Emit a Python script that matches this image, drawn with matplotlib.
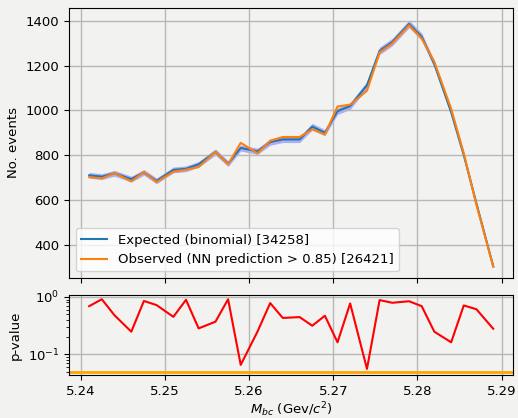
import matplotlib
matplotlib.use("Agg")
import matplotlib.pyplot as plt
import numpy as np

plt.rcParams.update({'font.size': 9.5})

# bin centres
m_bc = [5.241, 5.2425, 5.244, 5.246, 5.2475, 5.249, 5.251, 5.2525, 5.254, 5.256,
        5.2575, 5.259, 5.261, 5.2625, 5.264, 5.266, 5.2675, 5.269, 5.2705, 5.272,
        5.274, 5.2755, 5.277, 5.279, 5.2805, 5.282, 5.284, 5.2855, 5.287, 5.289]

# expected counts (binomial) and its error band half-width
expected = [711, 705, 720, 694, 724, 686, 735, 740, 760, 815,
            763, 833, 818, 859, 871, 871, 928, 901, 997, 1020,
            1113, 1266, 1305, 1386, 1329, 1207, 993, 801, 585, 305]
expected_err = [13, 13, 13, 13, 13, 13, 13, 13, 13, 14,
                13, 14, 14, 14, 14, 14, 15, 14, 15, 15,
                16, 17, 17, 17, 17, 16, 15, 13, 11, 8]

# observed counts (NN prediction > 0.85)
observed = [703, 697, 721, 684, 726, 681, 727, 736, 748, 816,
            760, 856, 809, 865, 882, 882, 916, 893, 1018, 1026,
            1088, 1259, 1299, 1380, 1321, 1217, 1008, 809, 580, 304]

# p-values per bin
p_values = [0.69, 0.91, 0.48, 0.248, 0.85, 0.72, 0.45, 0.89, 0.283, 0.37,
            0.91, 0.0655, 0.25, 0.78, 0.43, 0.445, 0.315, 0.47, 0.162, 0.77,
            0.0558, 0.88, 0.79, 0.84, 0.69, 0.248, 0.162, 0.71, 0.61, 0.279]

p_threshold = 0.05
n_expected = 34258
n_observed = 26421

bg = '#f2f2f1'
fig = plt.figure(figsize=(5.18, 4.18), dpi=100, facecolor=bg)

ax = fig.add_axes([0.1332, 0.3349, 0.858, 0.647], facecolor=bg)
ax_p = fig.add_axes([0.1332, 0.1029, 0.858, 0.1914], facecolor=bg, sharex=ax)

x = np.array(m_bc)
exp = np.array(expected)
err = np.array(expected_err)

ax.fill_between(x, exp - err, exp + err, color='blue', alpha=0.28, lw=0)
ax.plot(x, exp, color='tab:blue', lw=1.5,
        label=f'Expected (binomial) [{n_expected}]')
ax.plot(x, observed, color='tab:orange', lw=1.5,
        label=f'Observed (NN prediction > {0.85}) [{n_observed}]')
ax.set_ylabel('No. events')
ax.set_ylim(253, 1459)
ax.set_yticks([400, 600, 800, 1000, 1200, 1400])
ax.grid(True, color='#b8b8b8', lw=1.0)
ax.tick_params(labelbottom=False)
ax.legend(loc='lower left')

ax_p.plot(x, p_values, color='red', lw=1.5)
ax_p.axhline(p_threshold, color='orange', lw=2)
ax_p.set_yscale('log')
ax_p.set_ylim(0.0437, 1.08)
ax_p.set_ylabel('p-value')
ax_p.set_xlabel(r'$M_{bc}$ (Gev/$c^2$)', labelpad=2)
ax_p.grid(True, color='#b8b8b8', lw=1.0)
ax_p.set_xlim(5.2386, 5.2914)
ax_p.set_xticks([5.24, 5.25, 5.26, 5.27, 5.28, 5.29])

fig.savefig('out.png', dpi=100, facecolor=bg)
